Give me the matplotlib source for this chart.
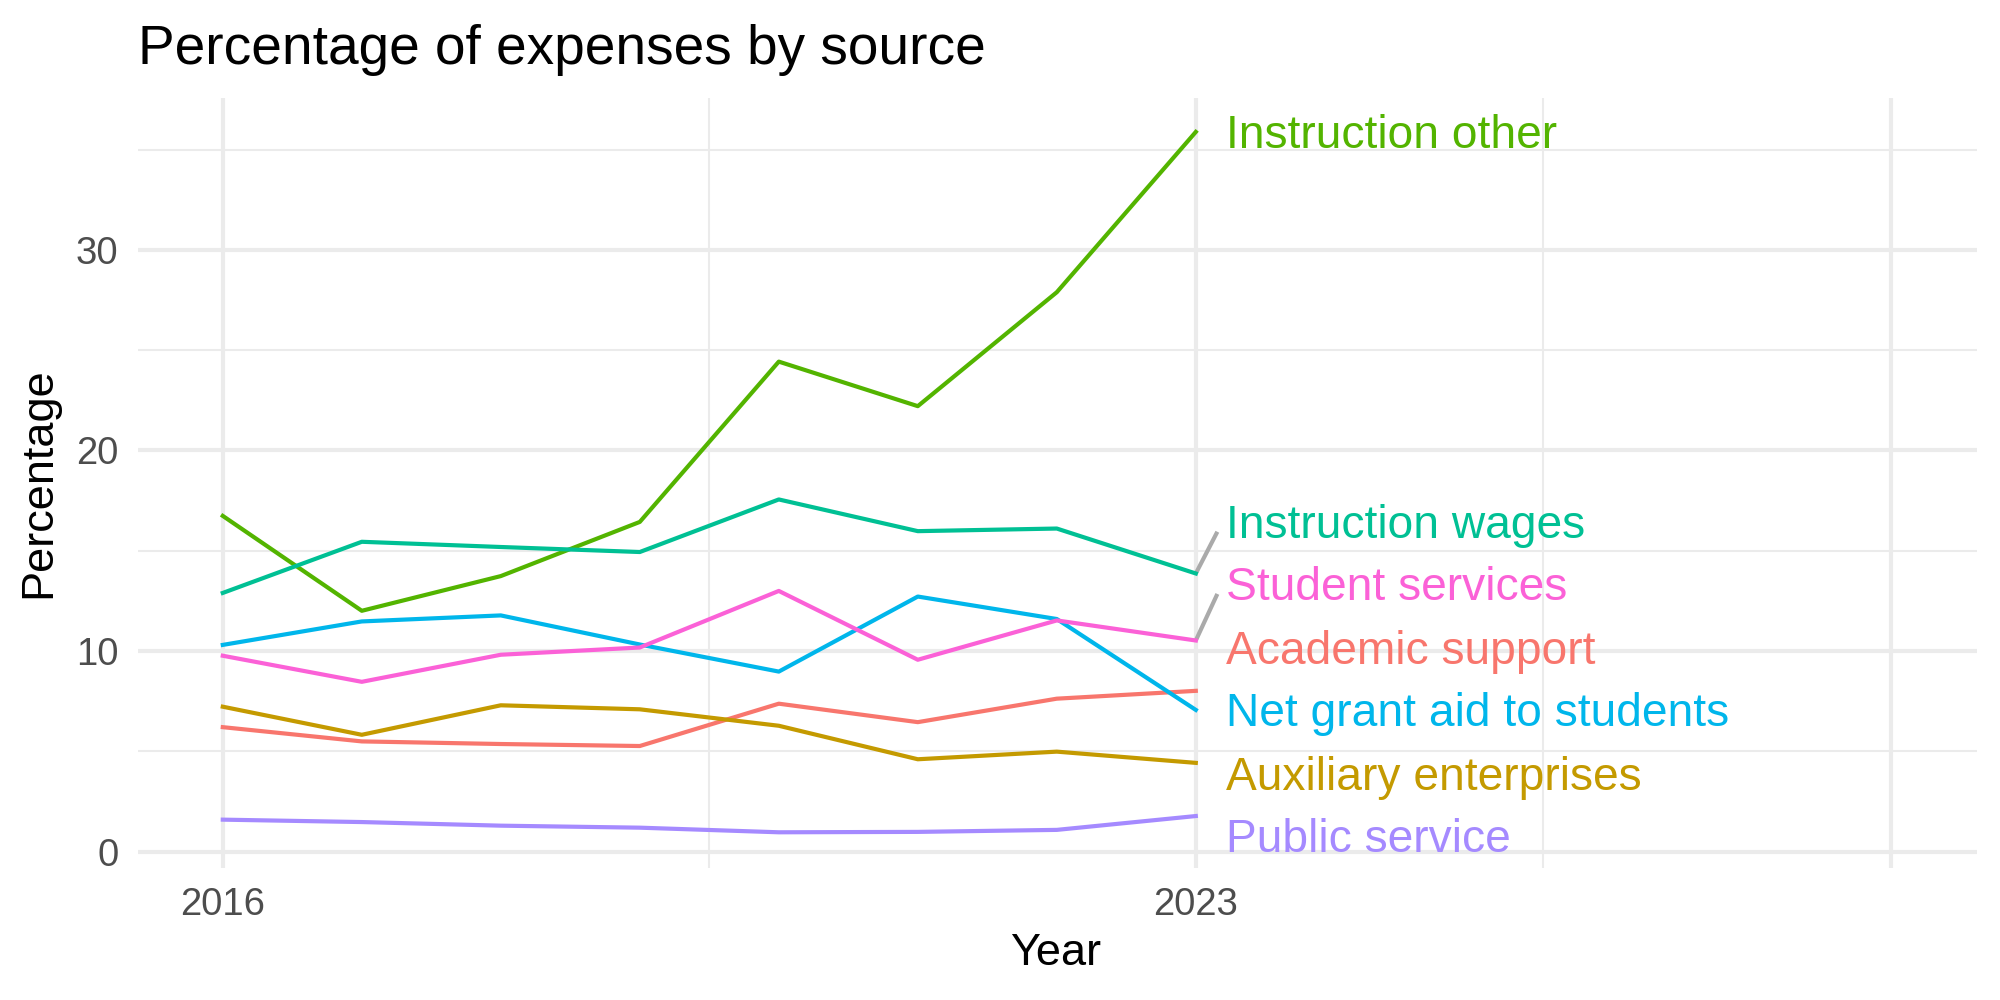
import numpy as np
import matplotlib.pyplot as plt

plt.rcParams['font.family'] = ['Liberation Sans', 'DejaVu Sans']

# data
years = [2016, 2017, 2018, 2019, 2020, 2021, 2022, 2023]

academic_support = [6.21, 5.50, 5.37, 5.27, 7.38, 6.46, 7.63, 8.02]
auxiliary_enterprises = [7.23, 5.83, 7.30, 7.10, 6.28, 4.61, 4.99, 4.43]
instruction_other = [16.74, 12.01, 13.74, 16.44, 24.43, 22.21, 27.89, 35.88]
instruction_wages = [12.90, 15.45, 15.19, 14.94, 17.56, 15.98, 16.11, 13.87]
net_grant_aid = [10.31, 11.48, 11.78, 10.33, 8.98, 12.72, 11.60, 7.07]
public_service = [1.60, 1.48, 1.30, 1.20, 0.97, 0.99, 1.09, 1.78]
student_services = [9.77, 8.47, 9.82, 10.18, 13.00, 9.57, 11.53, 10.53]

names = ['Academic support', 'Auxiliary enterprises', 'Instruction other',
         'Instruction wages', 'Net grant aid to students', 'Public service',
         'Student services']
series = [academic_support, auxiliary_enterprises, instruction_other,
          instruction_wages, net_grant_aid, public_service, student_services]
colors = ['#F8766D', '#C49A00', '#53B400', '#00C094', '#00B6EB', '#A58AFF', '#FB61D7']

# repelled label heights (centre of caps), same order as names
label_y = [10.17, 3.87, 35.87, 16.45, 7.07, 0.79, 13.35]
label_x = 2023.22

fig = plt.figure(figsize=(20, 10), dpi=100)
ax = fig.add_axes([0.069, 0.132, 0.9195, 0.770])

for name, vals, col, ly in zip(names, series, colors, label_y):
    ax.plot(years, vals, color=col, lw=3.0, zorder=3)
    last = vals[-1]
    if ly - last > 2.3:
        ax.plot([years[-1], label_x - 0.065], [last, ly - 0.5],
                color='#AAAAAA', lw=3.0, zorder=2, solid_capstyle='butt')
    ax.text(label_x, ly - 0.8, name, color=col, fontsize=33.2,
            ha='left', va='baseline', zorder=4)

ax.set_xlim(2015.39, 2028.62)
ax.set_ylim(-0.81, 37.57)

ax.set_xticks([2016, 2023, 2028])
ax.set_xticklabels(['2016', '2023', ''])
ax.set_xticks([2019.5, 2025.5], minor=True)
ax.set_yticks([0, 10, 20, 30])
ax.set_yticks([5, 15, 25, 35], minor=True)

ax.grid(which='major', color='#EBEBEB', lw=3.0)
ax.grid(which='minor', color='#EBEBEB', lw=1.5)
ax.set_axisbelow(True)
for s in ax.spines.values():
    s.set_visible(False)
ax.tick_params(which='both', length=0, labelsize=27.5, labelcolor='#4D4D4D', pad=14)

ax.set_xlabel('Year', fontsize=32.5)
ax.set_ylabel('Percentage', fontsize=32.5)
ax.xaxis.set_label_coords(0.499, -0.085)
ax.yaxis.set_label_coords(-0.043, 0.5)

fig.text(0.069, 0.936, 'Percentage of expenses by source', fontsize=39.6,
         ha='left', va='baseline')

fig.savefig('out.png', dpi=100, facecolor='white')
